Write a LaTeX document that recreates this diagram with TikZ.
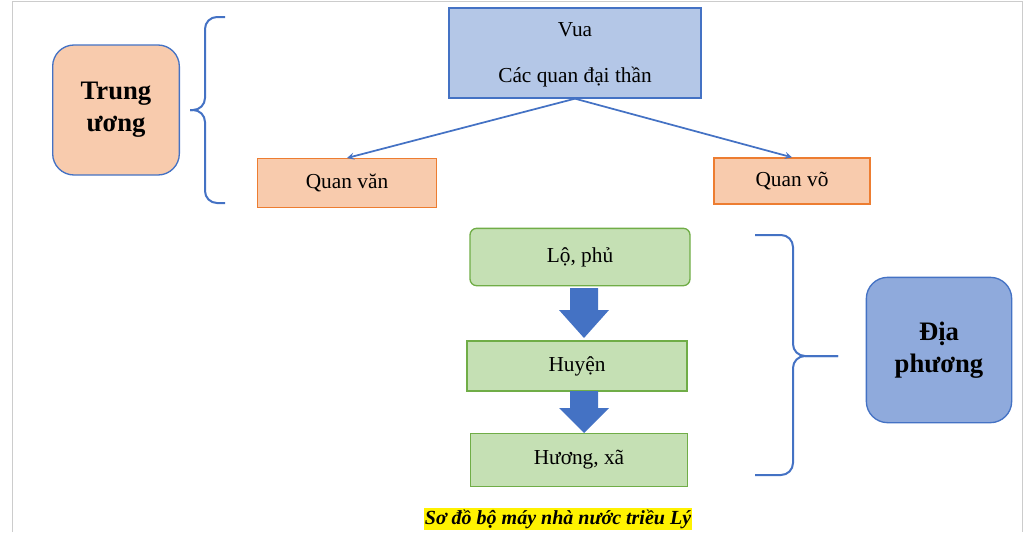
\documentclass[tikz,border=0pt]{standalone}
\usepackage{fontspec}
\setmainfont{Liberation Serif}
\usetikzlibrary{shapes.arrows}
\definecolor{bl}{RGB}{68,114,196}
\definecolor{blf}{RGB}{180,199,231}
\definecolor{blf2}{RGB}{143,170,220}
\definecolor{pch}{RGB}{248,203,173}
\definecolor{org}{RGB}{237,125,49}
\definecolor{gf}{RGB}{197,224,180}
\definecolor{gb}{RGB}{112,173,71}
\tikzset{
 box/.style={draw, line width=1pt, inner sep=0pt, font=\fontsize{16}{19}\selectfont},
 pbox/.style={box, fill=pch, draw=org},
 gbox/.style={box, fill=gf, draw=gb, rounded corners=5pt},
 rbox/.style={box, rounded corners=16pt, draw=bl, font=\fontsize{20}{24}\selectfont\bfseries, align=center},
 brc/.style={draw=bl, line width=1.5pt, rounded corners=9pt},
 con/.style={draw=bl, line width=1.3pt, -stealth},
 barr/.style={fill=bl, draw=none}
}
\begin{document}
\begin{tikzpicture}[x=0.75pt,y=-0.75pt]
\useasboundingbox (0,0) rectangle (1024,532);
\draw[gray!40] (12,532) -- (12,1) -- (1022,1) -- (1022,532);
\node[box, fill=blf, draw=bl, minimum width=189pt, minimum height=67.5pt] (vua) at (575,53) {};
\node[font=\fontsize{16}{19}\selectfont] (vt) at (575,30) {Vua};
\node[font=\fontsize{16}{19}\selectfont] (cq) at (575,77) {Các quan đại thần};
\node[rbox, fill=pch, minimum width=95pt, minimum height=97.5pt] (tw) at (116,110) {Trung\\ương};
\node[pbox, minimum width=134pt, minimum height=36.5pt] (qv) at (347,183) {Quan văn};
\node[pbox, minimum width=117pt, minimum height=34.5pt] (qvo) at (792,181) {Quan võ};
\draw[con] (vua.south) -- (qv.north);
\draw[con] (vua.south) -- (qvo.north);
\draw[brc] (225,17) -- (205,17) -- (205,110) -- (190,110);
\draw[brc] (225,203) -- (205,203) -- (205,110) -- (190,110);
\node[gbox, minimum width=165pt, minimum height=43pt] (lo) at (580,257) {Lộ, phủ};
\node[gbox, rounded corners=0pt, minimum width=165pt, minimum height=37.5pt] (hu) at (577,366) {Huyện};
\node[gbox, rounded corners=0pt, minimum width=163pt, minimum height=40pt] (hx) at (579,460) {Hương, xã};
\fill[bl] (570,288) -- (598,288) -- (598,310) -- (609,310) -- (584,338) -- (559,310) -- (570,310) -- cycle;
\fill[bl] (570,391) -- (598,391) -- (598,408) -- (609,408) -- (584,433) -- (559,408) -- (570,408) -- cycle;
\draw[brc] (755,235) -- (793,235) -- (793,356) -- (838,356);
\draw[brc] (755,475) -- (793,475) -- (793,356) -- (838,356);
\node[rbox, fill=blf2, minimum width=109pt, minimum height=109pt] (dp) at (939,350) {Địa\\phương};
\node[fill=yellow, inner sep=1pt, font=\fontsize{15}{18}\selectfont\bfseries\itshape] (cap) at (558,519) {Sơ đồ bộ máy nhà nước triều Lý};
\end{tikzpicture}
\end{document}
